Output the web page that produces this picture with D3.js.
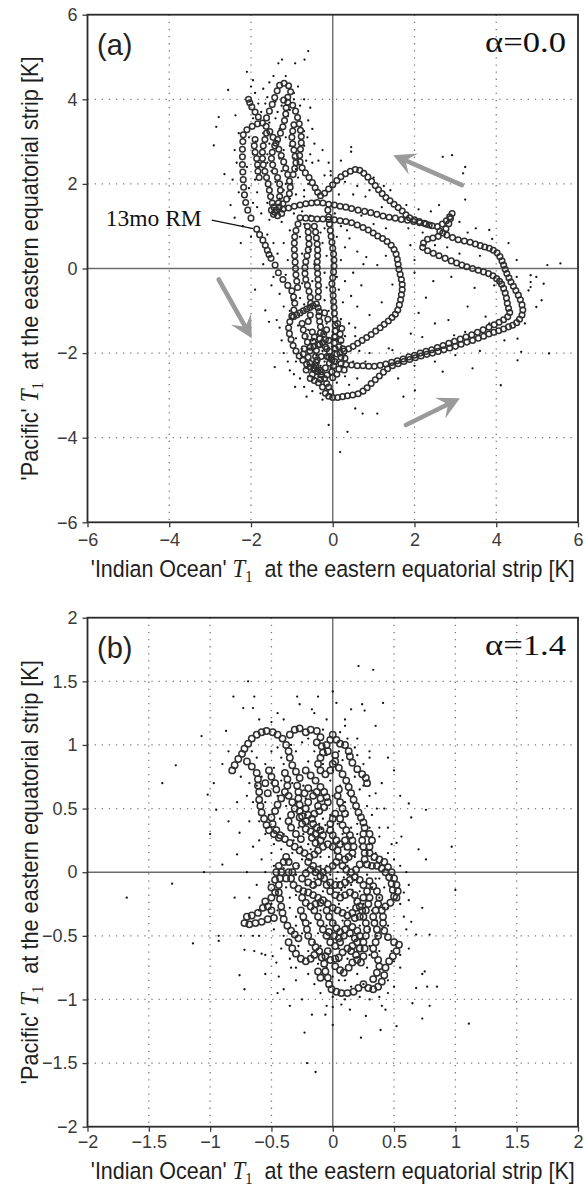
<!DOCTYPE html>
<html>
<head>
<meta charset="utf-8">
<script src="https://cdn.jsdelivr.net/npm/d3@7"></script>
<style>
  html, body { margin: 0; padding: 0; background: #fff; }
  svg { display: block; }
</style>
</head>
<body>
<svg id="chart" width="584" height="1191"></svg>
<script>
// ---------------------------------------------------------------
// Phase-space scatter of eastern equatorial T1 anomalies:
// monthly values (small dots) and 13-month running mean (open circles)
// ---------------------------------------------------------------

// axis tick values
const ticksA = [-6, -4, -2, 0, 2, 4, 6];
const ticksB = [-2, -1.5, -1, -0.5, 0, 0.5, 1, 1.5, 2];

// panel (a): 13-month running mean, [Indian Ocean T1, Pacific T1]
const runningMeanA = [
  [-1.86,0.93],[-2.0,1.19],[-2.08,1.38],[-2.13,1.56],[-2.16,1.74],[-2.18,1.92],[-2.19,2.1],[-2.2,2.28],[-2.21,2.46],[-2.21,2.64],[-2.21,2.82],[-2.2,3.0],[-2.19,3.16],[-2.1,3.28],[-1.97,3.36],[-1.84,3.42],[-1.72,3.44],
  [-1.62,3.56],[-1.55,3.72],[-1.48,3.88],[-1.42,4.04],[-1.36,4.2],[-1.3,4.33],[-1.19,4.38],[-1.08,4.32],[-1.03,4.18],[-1.1,4.05],[-1.2,3.98],[-1.1,3.93],[-0.98,3.86],[-0.91,3.72],[-0.86,3.57],[-0.82,3.42],[-0.79,3.27],[-0.77,3.12],[-0.77,2.97],[-0.79,2.82],[-0.81,2.67],[-0.8,2.52],[-0.75,2.38],[-0.67,2.26],[-0.58,2.15],[-0.5,2.03],[-0.43,1.91],[-0.37,1.8],[-0.3,1.72],
  [-2.06,4.0],[-2.03,3.92],[-1.98,3.82],[-1.9,3.7],[-1.82,3.58],[-1.63,3.36],[-1.54,3.24],[-1.46,3.1],[-1.39,2.96],[-1.32,2.82],[-1.26,2.67],[-1.2,2.52],[-1.15,2.37],[-1.1,2.22],[-1.06,2.07],[-1.04,1.92],[-1.06,1.77],[-1.13,1.64],[-1.22,1.53],[-1.31,1.45],[-1.38,1.38],[-1.42,1.33],
  [-1.62,3.2],[-1.66,3.05],[-1.7,2.9],[-1.72,2.75],[-1.72,2.6],[-1.7,2.45],[-1.66,2.3],[-1.62,2.15],[-1.58,2.0],[-1.55,1.85],[-1.52,1.7],[-1.48,1.55],[-1.44,1.45],
  [-1.33,1.55],[-1.3,1.7],[-1.28,1.85],[-1.3,2.0],[-1.35,2.15],[-1.42,2.3],[-1.47,2.45],[-1.5,2.6],[-1.48,2.75],[-1.42,2.9],[-1.35,3.05],[-1.28,3.2],[-1.22,3.35],[-1.18,3.5],[-1.15,3.65],[-1.14,3.8],
  [-0.95,3.4],[-0.98,3.25],[-1.0,3.1],[-0.98,2.95],[-0.95,2.8],[-0.92,2.65],[-0.9,2.5],[-0.93,2.36],[-0.97,2.22],
  [-1.9,3.05],[-1.92,2.9],[-1.9,2.75],[-1.86,2.6],[-1.84,2.45],[-1.83,2.3],[-1.8,2.15],[-1.35,1.25],[-1.25,1.3],[-1.45,1.28],[-1.5,1.38],
  [-1.22,1.4],[-1.08,1.43],[-0.94,1.47],[-0.8,1.5],[-0.66,1.53],[-0.52,1.55],[-0.38,1.56],[-0.24,1.55],[-0.1,1.52],[0.04,1.5],[0.18,1.47],[0.32,1.45],[0.46,1.42],[0.62,1.38],[0.78,1.35],[0.93,1.32],[1.08,1.28],[1.23,1.24],[1.38,1.21],[1.53,1.19],[1.68,1.16],[1.83,1.14],[1.98,1.11],[2.13,1.08],[2.28,1.05],[2.43,1.01],
  [2.56,0.99],[2.68,1.05],[2.78,1.13],[2.86,1.22],[2.92,1.3],[2.88,1.18],[2.84,1.06],[2.77,0.94],[2.69,0.84],[2.58,0.76],[2.45,0.72],[2.32,0.69],[2.22,0.6],[2.2,0.5],
  [2.32,0.42],[2.46,0.36],[2.6,0.3],[2.75,0.24],[2.9,0.18],[3.03,0.13],[3.16,0.08],[3.28,0.04],[3.42,0.0],[3.56,-0.04],[3.69,-0.08],[3.81,-0.12],[3.92,-0.17],[4.01,-0.24],[4.08,-0.3],[4.13,-0.37],[4.18,-0.47],[4.22,-0.58],[4.25,-0.7],[4.27,-0.82],[4.3,-0.94],[4.33,-1.04],
  [4.28,-1.14],[4.18,-1.21],[4.07,-1.27],[3.95,-1.33],[3.82,-1.39],[3.68,-1.45],[3.54,-1.51],[3.4,-1.57],[3.26,-1.62],[3.12,-1.67],[2.98,-1.72],[2.84,-1.77],[2.7,-1.82],[2.56,-1.87],[2.42,-1.92],[2.28,-1.96],[2.14,-2.0],[2.0,-2.05],[1.86,-2.09],[1.72,-2.14],[1.58,-2.18],[1.44,-2.22],[1.3,-2.26],[1.16,-2.29],[1.02,-2.31],[0.88,-2.31],[0.74,-2.3],[0.6,-2.3],[0.46,-2.28],[0.32,-2.27],[0.2,-2.25],
  [-0.2,1.78],[-0.1,1.88],[0.0,1.98],[0.1,2.08],[0.2,2.17],[0.31,2.24],[0.43,2.3],[0.55,2.34],[0.66,2.32],[0.76,2.25],[0.86,2.16],[0.95,2.06],[1.04,1.96],[1.12,1.86],[1.21,1.77],[1.3,1.68],[1.4,1.6],[1.5,1.52],[1.6,1.44],[1.7,1.36],[1.79,1.27],[1.88,1.2],[2.0,1.15],[2.12,1.11],[2.24,1.07],[2.36,1.03],
  [2.62,0.88],[2.79,0.79],[2.93,0.73],[3.07,0.68],[3.22,0.65],[3.36,0.62],[3.49,0.58],[3.61,0.54],[3.72,0.51],[3.83,0.48],[3.93,0.43],[4.02,0.37],[4.09,0.28],[4.14,0.18],[4.18,0.08],[4.22,-0.02],[4.26,-0.12],[4.31,-0.22],[4.36,-0.32],[4.42,-0.42],[4.48,-0.52],[4.54,-0.63],[4.59,-0.74],[4.63,-0.86],[4.65,-0.98],[4.63,-1.1],[4.57,-1.2],[4.5,-1.28],[4.4,-1.34],[4.3,-1.38],
  [4.18,-1.43],[4.06,-1.47],[3.94,-1.51],[3.82,-1.55],[3.69,-1.6],[3.56,-1.65],[3.42,-1.7],[3.28,-1.74],[3.14,-1.79],[3.0,-1.84],[2.86,-1.88],[2.72,-1.92],[2.58,-1.96],[2.44,-2.0],[2.3,-2.03],[2.16,-2.07],[2.02,-2.11],[1.88,-2.15],[1.74,-2.2],[1.6,-2.25],[1.46,-2.3],[1.34,-2.37],[1.24,-2.45],[1.14,-2.54],[1.04,-2.63],[0.94,-2.72],[0.84,-2.82],[0.74,-2.9],[0.62,-2.96],[0.49,-2.99],[0.36,-3.01],[0.24,-3.03],[0.12,-3.05],[0.0,-3.05],[-0.1,-3.02],[-0.18,-2.95],
  [-0.8,1.2],[-0.66,1.19],[-0.52,1.18],[-0.38,1.17],[-0.24,1.17],[-0.1,1.16],[0.04,1.15],[0.18,1.13],[0.32,1.11],[0.46,1.08],[0.6,1.03],[0.74,0.97],[0.87,0.91],[0.99,0.84],[1.1,0.77],[1.22,0.71],[1.33,0.64],[1.43,0.55],[1.5,0.45],[1.55,0.34],[1.58,0.22],[1.6,0.1],[1.62,-0.02],[1.65,-0.14],[1.68,-0.26],[1.7,-0.38],[1.7,-0.5],[1.68,-0.62],[1.66,-0.74],[1.63,-0.86],[1.59,-0.98],[1.53,-1.08],[1.45,-1.16],[1.36,-1.24],[1.26,-1.32],[1.16,-1.4],[1.05,-1.48],[0.94,-1.56],[0.83,-1.63],[0.72,-1.7],[0.61,-1.77],[0.5,-1.84],[0.39,-1.9],[0.28,-1.95],[0.18,-2.0],
  [-1.79,0.8],[-1.71,0.67],[-1.65,0.55],[-1.6,0.43],[-1.56,0.33],[-1.51,0.24],[-1.41,0.08],[-1.33,-0.1],[-1.22,-0.26],[-1.1,-0.4],[-1.0,-0.53],[-0.96,-0.67],[-0.93,-0.82],[-0.95,-0.98],[-1.0,-1.12],[-1.05,-1.26],[-1.08,-1.4],[-1.06,-1.54],[-1.02,-1.68],[-0.97,-1.82],[-0.9,-1.95],[-0.82,-2.07],[-0.73,-2.17],[-0.64,-2.26],[-0.55,-2.33],[-0.46,-2.39],[-0.37,-2.43],[-0.28,-2.44],
  [-0.96,-1.14],[-0.88,-1.1],[-0.8,-1.05],[-0.72,-1.0],[-0.64,-0.96],[-0.56,-0.92],[-0.48,-0.88],[-0.4,-0.84],[-0.36,-0.93],[-0.33,-1.02],
  [-0.45,1.0],[-0.42,0.86],[-0.4,0.72],[-0.38,0.58],[-0.37,0.44],[-0.37,0.3],[-0.38,0.16],[-0.38,0.02],[-0.37,-0.12],[-0.36,-0.26],[-0.35,-0.4],[-0.35,-0.54],[-0.36,-0.68],[-0.34,-1.12],[-0.32,-1.25],[-0.3,-1.38],[-0.3,-1.52],[-0.32,-1.66],[-0.36,-1.8],[-0.4,-1.94],[-0.42,-2.08],[-0.4,-2.22],
  [-0.85,1.05],[-0.9,0.9],[-0.93,0.75],[-0.94,0.6],[-0.94,0.45],[-0.93,0.3],[-0.92,0.15],[-0.91,0.0],[-0.9,-0.15],[-0.88,-0.3],[-0.86,-0.45],
  [-0.62,1.0],[-0.6,0.86],[-0.59,0.72],[-0.58,0.58],[-0.6,0.44],[-0.63,0.3],[-0.66,0.16],[-0.68,0.02],[-0.68,-0.12],[-0.66,-0.26],[-0.62,-0.4],[-0.58,-0.54],[-0.55,-0.68],[-0.54,-0.82],
  [-0.12,1.38],[-0.1,1.22],[-0.08,1.05],[-0.06,0.9],[-0.04,0.76],[-0.02,0.62],[0.0,0.48],[0.02,0.34],[0.03,0.2],[0.03,0.06],[0.02,-0.08],[0.0,-0.22],[-0.02,-0.36],[0.0,-0.5],[0.01,-0.64],[0.02,-0.78],[0.03,-0.92],[0.04,-1.06],[0.05,-1.2],[0.06,-1.34],[0.06,-1.48],[0.05,-1.62],[0.04,-1.76],[0.06,-1.9],[0.1,-2.02],
  [-0.6,-2.1],[-0.56,-1.95],[-0.46,-1.84],[-0.32,-1.8],[-0.18,-1.85],[-0.08,-1.96],[-0.04,-2.1],[-0.08,-2.24],[-0.18,-2.35],[-0.32,-2.4],[-0.46,-2.35],[-0.56,-2.24],
  [-0.42,-2.3],[-0.38,-2.16],[-0.28,-2.08],[-0.14,-2.08],[-0.02,-2.16],[0.02,-2.3],[-0.02,-2.44],[-0.14,-2.52],[-0.28,-2.52],[-0.38,-2.44],
  [-0.15,-1.9],[-0.1,-1.7],[0.05,-1.6],[0.2,-1.7],[0.25,-1.9],[0.2,-2.1],[0.05,-2.2],[-0.1,-2.1],
  [-0.75,-1.3],[-0.72,-1.45],[-0.68,-1.6],[-0.62,-1.74],[-0.55,-1.86],
  [-0.2,-2.6],[-0.15,-2.72],[-0.25,-2.8],[-0.35,-2.7],[-0.05,-2.92],[-0.1,-2.8],[0.15,-2.38],[0.1,-2.5],[0.0,-2.58],
  [-0.5,-1.5],[-0.45,-1.62],[-0.48,-1.72],[-0.22,-1.55],[-0.18,-1.68],[-0.25,-1.75],[-0.7,-1.9],[-0.72,-2.02],[-0.5,-2.5],[-0.55,-2.6],[-0.45,-2.65],[0.18,-1.55],[0.22,-1.42],[0.12,-1.3],[-0.15,-1.45],[-0.12,-1.2],[-0.2,-1.05],[-0.55,-1.1],[-0.6,-1.25],[0.15,-1.85],[0.3,-2.12],[0.28,-2.4],[-0.65,-2.4],[-0.3,-2.62]
];

// panel (a): monthly values
const monthlyA = [
  [-2.56,4.22],[-2.1,4.65],[-1.33,4.85],[-1.24,4.94],[-0.92,4.85],[-0.69,4.94],[-0.6,5.14],[-2.79,3.58],[-2.85,3.35],[-2.91,2.91],[-2.65,2.23],[-2.38,3.62],[-2.0,4.3],[-1.95,4.45],[-1.9,4.15],[-1.7,4.25],[-1.6,4.05],[-1.55,4.4],[-0.85,4.3],[-0.95,4.15],[-0.7,4.0],[-0.55,3.8],[-0.6,3.5],[-0.5,3.3],[-0.62,3.1],[-0.45,2.95],[-0.55,2.7],[-0.35,2.55],[-0.25,2.8],[-0.1,2.5],[-0.2,2.2],[-0.05,2.3],[-1.82,3.9],[-1.75,3.7],[-1.95,3.55],[-2.3,3.2],[-2.4,2.8],[-2.35,2.5],[-2.45,2.1],[-2.3,1.8],[-2.5,1.5],[-2.4,1.2],[-2.2,1.0],[-2.0,0.75],[-2.25,0.6],[-1.95,1.55],[-1.85,1.8],[-1.9,2.1],[-1.82,2.4],[-1.95,2.7],[-1.88,3.0],[-2.05,3.1],[-1.35,3.7],[-1.25,3.85],[-1.55,3.45],[-1.3,3.3],[-1.15,3.1],[-1.05,2.9],[-1.2,2.8],[-0.95,2.6],[-0.9,2.35],[-1.25,2.3],[-1.4,2.05],[-1.2,1.85],[-0.9,1.75],[-0.7,1.85],[-0.6,2.0],[-1.6,1.55],[-1.75,1.3],[-1.55,1.15],[-1.25,1.1],[-0.95,1.3],[-0.75,1.35],[-1.05,1.65],[-1.5,2.3],[-1.6,2.7],[-1.55,2.95],[-1.4,3.55],[-1.1,3.6],[-0.95,4.0],[-1.7,3.2],[-2.1,2.4],[-2.05,1.9],[-1.45,4.55],[-1.15,4.55],[-0.8,3.85],[-0.7,3.25],[-0.5,2.5],[-0.85,2.15],[-1.0,2.0],
  [-1.65,3.9],[-1.4,3.95],[-1.05,3.75],[-1.3,2.6],[-1.6,2.5],[-1.15,2.0],[-0.65,2.55],[-0.7,2.9],[-1.85,1.45],[-1.3,1.65],[-0.45,1.6],[-0.7,1.7],
  [0.45,2.87],[0.45,2.76],[0.2,2.55],[-0.05,2.2],[0.3,2.05],[0.6,1.95],[0.9,1.85],[1.41,1.85],[1.25,1.95],[1.0,2.15],[0.8,1.7],[0.5,1.75],[0.15,1.75],[2.69,2.64],[2.92,2.68],[3.24,2.4],[3.19,2.25],[3.24,1.63],[2.4,1.35],[2.1,1.4],[1.8,1.5],[1.2,1.45],[0.7,1.25],[2.6,1.5],[3.1,1.1],[3.5,0.95],[3.83,0.91],[3.3,0.85],[2.2,0.85],[1.85,0.95],[1.3,0.95],[1.0,1.05],[0.35,0.9],[0.41,0.71],[0.82,0.27],[1.09,0.08],[1.3,0.3],[1.9,0.55],[2.0,0.2],[2.5,0.55],[2.8,0.5],[3.1,0.35],[3.6,0.3],[3.9,0.7],[4.3,0.6],[4.5,0.2],[5.25,0.08],[5.57,0.12],[4.84,-0.16],[4.98,-0.2],[5.16,-0.36],[4.84,-0.44],[4.79,-0.52],[4.84,-0.32],[5.11,-0.75],[4.98,-0.91],[4.7,-1.3],[4.5,-0.2],[3.95,-0.4],[3.47,-0.46],[2.46,-0.3],[2.28,-0.69],[1.46,-0.38],[2.0,-0.1],[2.9,-0.2],[3.3,-0.9],[3.74,-1.14],[3.83,-1.3],[3.24,-1.5],[2.97,-1.58],[2.83,-1.22],[2.19,-1.62],[1.91,-1.54],[1.37,-1.89],[1.46,-1.93],[2.5,-1.3],[2.1,-1.05],[1.2,-0.8],[0.9,-1.1],[0.6,-0.9],[0.55,-1.4],[0.9,-2.0],[1.6,-2.6],[2.0,-2.3],[2.5,-2.2],[3.0,-2.05],[3.6,-1.95],[4.2,-1.7],[4.52,-1.66],[4.61,-1.97],[4.52,-2.17],[5.29,-2.01],[4.11,-2.76],[3.42,-2.36],[2.69,-2.44],[2.01,-2.88],[1.73,-3.03],[1.09,-3.43],[0.73,-3.43],[0.55,-3.31],[0.36,-3.86],[0.18,-4.34],[-0.1,-3.7],[-0.64,-3.03],[-0.92,-2.8],[-1.05,-2.41],[-1.42,-2.33],[-1.65,-0.99],[-1.56,-1.26],[-1.37,-1.22],
  [-1.3,-0.6],[-1.5,-0.4],[-1.2,-0.9],[-1.25,-1.7],[-1.2,-2.0],[-1.1,-2.2],[-0.95,-2.5],[-0.8,-2.6],[-0.7,-2.8],[-0.5,-2.9],[-0.45,-2.6],[-0.3,-2.95],[0.1,-2.7],[0.3,-2.55],[0.4,-2.75],[0.6,-2.6],[0.5,-2.2],[0.3,-2.05],[0.55,-1.6],[0.4,-1.3],[0.3,-1.6],[0.2,-1.2],[0.25,-0.8],[0.15,-0.5],[0.3,-0.3],[0.5,-0.1],[0.2,0.2],[0.3,0.5],[0.1,0.75],[0.2,1.0],[-0.2,0.95],[-0.25,0.6],[-0.15,0.3],[-0.2,-0.1],[-0.15,-0.45],[-0.2,-0.75],[-0.1,-1.0],[-0.15,-1.3],[-0.2,-1.55],[-0.1,-1.65],[0.15,-1.45],[0.2,-1.75],[0.1,-2.2],[-0.05,-2.35],[-0.15,-2.05],[-0.25,-1.95],[-0.45,-2.0],[-0.5,-1.7],[-0.6,-1.45],[-0.55,-1.2],[-0.7,-0.85],[-0.8,-0.7],[-0.75,-0.35],[-0.5,-0.3],[-0.45,0.1],[-0.55,0.45],[-0.75,0.35],[-0.8,0.75],[-0.7,1.05],[-1.05,0.9],[-1.2,0.6],[-1.35,0.35],[-1.1,0.2],[-1.15,-0.15],[-1.0,-0.75],[-0.85,-1.35],[-0.9,-1.65],[-0.75,-1.9],[-0.65,-2.35],[-0.35,-2.55],[-0.2,-2.2],[0.0,-1.5],[0.1,-0.2],[-0.3,0.85],[0.05,1.3],[-0.55,1.25],[-1.6,0.8],[-1.45,0.6],[-1.7,0.1],[-1.45,-0.2],[-1.9,-0.5],[-1.05,-1.0],[0.45,-0.65],[0.7,-0.4],[0.75,0.1],[0.6,0.4],[0.65,-1.95],[0.8,-2.2],[-0.6,-2.55],[-0.9,-2.2],[-1.3,-1.4],[-0.25,-3.1],[0.7,-2.95],
  [-0.3,-2.3],[-0.4,-2.05],[0.05,-1.95],[-0.1,-2.45],[-0.55,-2.15],[0.2,-2.3],[-0.25,-1.65],[-0.02,-1.85],[0.12,-1.7],[-0.38,-1.55],[-0.62,-1.6]
];

// panel (b): 13-month running mean
const runningMeanB = [
  [-0.82,0.8],[-0.8,0.84],[-0.77,0.89],[-0.74,0.93],[-0.72,0.97],[-0.69,1.01],[-0.66,1.05],[-0.62,1.08],[-0.58,1.1],[-0.54,1.11],[-0.49,1.1],[-0.45,1.08],[-0.41,1.05],[-0.38,1.0],[-0.36,0.95],[-0.35,0.9],[-0.33,0.84],[-0.3,0.79],[-0.27,0.74],
  [-0.7,0.87],[-0.66,0.83],[-0.62,0.78],[-0.61,0.73],[-0.61,0.68],[-0.6,0.63],[-0.6,0.57],[-0.59,0.52],[-0.58,0.47],[-0.56,0.42],[-0.54,0.37],[-0.52,0.33],[-0.48,0.3],[-0.44,0.27],
  [-0.35,1.08],[-0.31,1.12],[-0.27,1.13],[-0.22,1.1],[-0.18,1.12],[-0.13,1.11],[-0.1,1.06],[-0.13,1.02],[-0.09,0.99],[-0.05,1.0],[-0.02,1.04],[0.0,1.08],[0.03,1.04],[0.06,1.01],[0.1,1.0],[0.13,0.95],[0.14,0.91],[0.16,0.86],[0.2,0.81],[0.24,0.77],[0.27,0.74],[0.28,0.7],
  [-0.39,0.78],[-0.37,0.73],[-0.37,0.68],[-0.39,0.63],[-0.42,0.58],[-0.45,0.53],[-0.47,0.48],[-0.5,0.43],[-0.49,0.38],[-0.46,0.33],[-0.43,0.29],[-0.39,0.26],[-0.35,0.23],[-0.31,0.2],[-0.27,0.17],[-0.23,0.15],[-0.19,0.12],
  [-0.29,0.68],[-0.28,0.63],[-0.28,0.58],[-0.27,0.53],[-0.27,0.48],[-0.27,0.43],[-0.25,0.38],[-0.22,0.34],
  [-0.22,0.8],[-0.18,0.76],[-0.14,0.72],[-0.1,0.67],[-0.07,0.63],[-0.05,0.59],[-0.04,0.55],[-0.07,0.51],[-0.11,0.48],[-0.15,0.46],[-0.17,0.42],[-0.16,0.38],[-0.13,0.35],[-0.1,0.33],[-0.08,0.29],[-0.1,0.25],[-0.14,0.23],[-0.17,0.27],[-0.18,0.32],[-0.14,0.3],
  [0.02,0.87],[0.05,0.82],[0.08,0.77],[0.11,0.72],[0.13,0.67],[0.15,0.62],[0.17,0.57],[0.19,0.52],[0.21,0.47],[0.23,0.43],[0.25,0.39],[0.26,0.35],[0.25,0.3],[0.24,0.25],[0.25,0.2],[0.26,0.15],[0.26,0.1],[0.28,0.06],[0.32,0.05],[0.36,0.05],[0.4,0.03],[0.43,0.0],[0.46,-0.04],[0.48,-0.09],[0.49,-0.14],[0.5,-0.19],[0.47,-0.24],[0.43,-0.27],[0.4,-0.3],[0.41,-0.35],[0.41,-0.4],[0.42,-0.46],[0.45,-0.51],[0.5,-0.55],[0.54,-0.57],[0.52,-0.62],[0.49,-0.66],[0.46,-0.7],[0.43,-0.75],[0.42,-0.81],[0.4,-0.86],[0.37,-0.9],[0.33,-0.92],[0.29,-0.91],
  [0.25,-0.88],[0.21,-0.91],[0.17,-0.94],[0.12,-0.95],[0.07,-0.95],[0.03,-0.94],[-0.01,-0.92],[-0.03,-0.88],[-0.04,-0.83],[-0.06,-0.78],[-0.07,-0.72],[-0.09,-0.67],[-0.11,-0.62],[-0.14,-0.59],[-0.17,-0.55],[-0.2,-0.5],[-0.21,-0.45],[-0.22,-0.4],[-0.24,-0.35],[-0.26,-0.3],
  [0.02,-0.74],[0.06,-0.77],[0.09,-0.79],[0.13,-0.75],[0.16,-0.71],[0.2,-0.69],[0.23,-0.71],[0.25,-0.66],[0.26,-0.6],[0.25,-0.55],[0.27,-0.5],[0.28,-0.45],[0.27,-0.4],[0.25,-0.35],[0.27,-0.3],[0.29,-0.25],[0.3,-0.2],[0.28,-0.15],[0.25,-0.1],[0.22,-0.06],[0.18,-0.04],[0.14,-0.06],[0.1,-0.08],[0.06,-0.1],[0.02,-0.1],[-0.02,-0.08],
  [-0.55,-0.23],[-0.57,-0.28],[-0.61,-0.32],[-0.66,-0.34],[-0.7,-0.35],[-0.72,-0.4],[-0.68,-0.41],[-0.63,-0.4],[-0.58,-0.39],[-0.53,-0.37],[-0.48,-0.36],
  [-0.42,0.0],[-0.43,-0.05],[-0.44,-0.1],[-0.44,-0.16],[-0.43,-0.21],[-0.42,-0.27],[-0.41,-0.32],[-0.4,-0.37],[-0.37,-0.42],[-0.34,-0.46],[-0.31,-0.49],[-0.28,-0.52],
  [-0.2,0.08],[-0.16,0.05],[-0.12,0.02],[-0.08,0.0],[-0.04,0.02],[0.0,0.05],[0.03,0.08],[0.05,0.12],[0.04,0.17],[0.0,0.2],[-0.04,0.22],[-0.08,0.2],[-0.12,0.17],[-0.15,0.14],[-0.3,0.05],[-0.33,0.0],[-0.34,-0.05],[-0.32,-0.1],[-0.28,-0.13],[-0.24,-0.15],[-0.2,-0.16],[-0.16,-0.18],[-0.12,-0.2],[-0.08,-0.22],[-0.04,-0.25],[0.0,-0.28],[0.04,-0.3],[0.08,-0.32],[0.12,-0.34],[0.16,-0.32],[0.19,-0.28],[0.2,-0.23],[0.18,-0.18],[0.14,-0.16],[0.1,-0.18],[0.06,-0.2],[0.02,-0.18],[-0.02,-0.15],[-0.05,-0.1],[-0.07,-0.05],
  [-0.15,-0.3],[-0.12,-0.35],[-0.1,-0.4],[-0.08,-0.45],[-0.05,-0.5],[-0.02,-0.55],[0.02,-0.58],[0.06,-0.55],[0.09,-0.5],[0.1,-0.45],[0.12,-0.4],[0.16,-0.43],[0.2,-0.46],[0.22,-0.5],[0.2,-0.55],[0.16,-0.58],[0.12,-0.6],[0.08,-0.63],[0.05,-0.67],
  [-0.38,0.12],[-0.36,0.08],[-0.26,0.26],[-0.3,0.3],[-0.34,0.35],[-0.36,0.4],[-0.34,0.45],[-0.31,0.5],[-0.33,0.55],[-0.36,0.6],
  [0.06,0.42],[0.08,0.37],[0.11,0.33],[0.14,0.29],[0.16,0.25],[0.17,0.2],[0.16,0.15],[0.13,0.12],[0.1,0.1],[0.08,0.05],[0.11,0.02],[0.15,0.0],[0.19,0.02],[0.22,0.06],
  [-0.36,-0.55],[-0.33,-0.6],[-0.3,-0.64],[-0.26,-0.68],[-0.22,-0.7],[-0.18,-0.68],[-0.15,-0.65],
  [-0.52,0.8],[-0.5,0.75],[-0.47,0.7],[-0.46,0.65],[-0.53,0.62],[-0.55,0.7],
  [0.33,-0.84],[0.36,-0.79],[0.38,-0.74],[0.37,-0.69],[0.34,-0.65],[0.33,-0.6],[0.35,-0.55],[0.37,-0.5],[0.36,-0.45],[0.34,-0.4],[0.33,-0.35],[0.35,-0.3],[0.37,-0.25],[0.38,-0.2],[0.36,-0.15],[0.33,-0.11],[0.3,-0.07],
  [-0.25,-0.05],[-0.22,-0.01],[-0.18,0.02],[-0.14,0.0],[-0.1,-0.03],[-0.12,-0.08],[-0.16,-0.1],[-0.2,-0.08],[-0.25,-0.2],[-0.22,-0.24],[-0.18,-0.27],[-0.14,-0.25],[-0.1,-0.24],
  [-0.05,-0.3],[-0.03,-0.35],[0.0,-0.4],[0.03,-0.44],[0.06,-0.47],[0.05,-0.52],[0.01,-0.5],[-0.03,-0.47],[-0.04,-0.62],[-0.06,-0.66],[-0.02,-0.69],[0.02,-0.68],
  [0.3,0.3],[0.32,0.25],[0.3,0.2],[0.3,0.15],[0.34,0.12],[0.38,0.1],[0.42,0.08],[0.45,0.04],[0.48,0.0],[0.5,-0.05],[0.52,-0.1],[0.53,-0.15],[0.52,-0.2],
  [-0.2,0.55],[-0.22,0.5],[-0.2,0.45],[-0.22,0.4],[-0.25,0.44],[-0.23,0.62],[-0.2,0.66],[-0.16,0.6],[-0.13,0.63],[-0.1,0.58],[-0.12,0.52],
  [0.05,0.65],[0.04,0.6],[0.06,0.55],[0.08,0.5],[0.1,0.46],[0.02,0.46],[0.0,0.42],[-0.02,0.38],[-0.02,0.33],[0.0,0.29],[0.03,0.25],[0.06,0.22],[0.1,0.25],[0.12,0.2],
  [-0.08,0.94],[-0.1,0.9],[-0.12,0.85],[-0.1,0.8],[-0.06,0.77],[-0.02,0.8],[0.0,0.85],[0.02,0.92],[-0.04,0.95],
  [-0.5,-0.3],[-0.53,-0.27],[-0.5,-0.2],[-0.47,-0.16],[-0.5,-0.12],[-0.47,-0.06],[-0.46,0.0],[-0.44,0.05],[-0.4,0.08],[-0.36,0.0],[-0.38,-0.05],
  [-0.12,-0.78],[-0.1,-0.83],[0.15,-0.62],[0.19,-0.65],[0.22,-0.6],[0.18,-0.52],[0.14,-0.48],[0.18,-0.36],[0.22,-0.35],[0.24,-0.3],[0.22,-0.27],[0.25,-0.2]
];

// panel (b): monthly values
const monthlyB = [
  [0.21,1.62],[0.33,1.59],[0.0,1.42],[0.03,1.33],[0.15,1.28],[0.24,1.32],[0.26,1.27],[0.41,1.33],[0.35,1.15],[-0.81,1.38],[-0.64,1.38],[-0.73,1.29],[-0.65,1.29],[-0.69,1.5],[-0.29,1.38],[-0.12,1.38],[-0.27,1.32],[-0.17,1.28],[-1.07,1.07],[-0.87,1.11],[-1.28,0.84],[-1.39,0.7],[-1.02,0.61],[-0.97,0.7],[-0.95,0.49],[-0.76,0.31],[-0.78,0.14],[-0.9,0.06],[-1.05,0.0],[-1.31,-0.09],[-1.68,-0.2],[-1.14,-0.56],[-0.93,-0.5],[-0.93,-0.54],[-0.72,-0.61],[-0.64,-0.62],[-0.58,-0.64],[-0.76,-0.81],[-0.72,-0.92],[-0.4,-0.92],[-0.49,-0.66],[-0.46,-0.71],[-0.44,-0.82],[-0.34,-0.75],[-0.17,-1.12],[-0.23,-1.26],[-0.21,-1.5],[-0.14,-1.57],[-0.06,-1.12],[0.0,-1.2],[0.0,-1.06],[0.07,-1.04],[0.14,-1.08],[0.23,-1.3],[0.27,-1.13],[0.39,-1.24],[0.43,-1.08],[0.52,-1.21],[0.65,-1.03],[0.73,-0.8],[0.75,-0.78],[0.68,-0.91],[0.77,-0.9],[0.85,-0.9],[0.79,-1.05],[0.73,-1.15],[1.11,-1.19],[0.73,-0.28],[0.64,-0.39],[0.68,-0.49],[0.79,-0.49],[0.62,-0.1],[0.58,-0.16],[0.62,-0.22],[1.0,-0.14],[0.76,0.49],[0.64,0.43],[0.62,0.54],[0.7,0.18],[0.76,0.1],[0.97,0.2],[0.52,0.23],[0.56,0.28],
  [0.1,1.2],[0.2,1.05],[0.3,0.95],[0.45,0.9],[0.5,0.8],[0.4,0.7],[0.55,0.6],[-0.45,1.25],[-0.5,1.18],[-0.6,1.2],[-0.85,0.95],[-0.9,0.85],[-0.78,0.55],[-0.7,0.6],[-0.85,0.4],[-1.0,0.3],[-0.65,0.2],[-0.58,0.1],[-0.7,0.0],[-0.62,-0.1],[-0.8,-0.2],[-0.75,-0.5],[-0.6,-0.5],[-0.55,-0.8],[-0.3,-0.85],[-0.25,-1.0],[-0.1,-0.95],[0.05,-0.85],[0.15,-0.9],[0.3,-1.0],[0.45,-0.95],[0.55,-0.75],[0.62,-0.6],[0.58,-0.35],[0.55,0.05],[0.45,0.15],[0.38,0.35],[0.42,0.5],[0.35,0.62],[0.3,0.9],[0.1,1.15],[-0.05,1.2],[-0.15,1.25],[-0.4,1.2],
  [-0.5,0.95],[-0.42,0.9],[-0.3,0.95],[-0.25,1.02],[-0.15,0.95],[-0.05,0.92],[0.05,0.95],[0.12,1.05],[0.2,0.92],[-0.55,0.85],[-0.48,0.82],[-0.4,0.85],[-0.2,0.87],[-0.08,0.85],[0.0,0.8],[0.08,0.88],[0.18,0.75],[0.25,0.85],[-0.58,0.75],[-0.5,0.7],[-0.42,0.72],[-0.33,0.7],[-0.24,0.68],[-0.17,0.64],[-0.02,0.72],[0.06,0.68],[0.12,0.62],[0.22,0.65],[0.3,0.6],[-0.65,0.55],[-0.55,0.55],[-0.45,0.6],[-0.38,0.52],[-0.3,0.55],[-0.22,0.58],[-0.12,0.55],[0.0,0.6],[0.05,0.52],[0.1,0.55],[0.18,0.5],[0.28,0.52],[0.32,0.45],[-0.6,0.4],[-0.52,0.45],[-0.43,0.42],[-0.35,0.38],[-0.22,0.45],[-0.08,0.42],[-0.02,0.45],[0.04,0.38],[0.12,0.45],[0.2,0.38],[0.3,0.35],[0.38,0.28],[-0.55,0.3],[-0.48,0.22],[-0.4,0.3],[-0.32,0.25],[-0.24,0.3],[-0.2,0.22],[-0.12,0.28],[-0.05,0.32],[0.02,0.28],[0.08,0.22],[0.12,0.28],[0.2,0.3],[0.3,0.22],[0.35,0.15],[-0.5,0.15],[-0.42,0.18],[-0.33,0.15],[-0.25,0.1],[-0.18,0.18],[-0.1,0.12],[-0.03,0.12],[0.02,0.15],[0.1,0.18],[0.18,0.12],[0.25,0.05],[0.32,0.1],[-0.48,0.05],[-0.4,0.03],[-0.3,-0.02],[-0.22,0.02],[-0.15,-0.05],[-0.1,0.05],[-0.02,-0.02],[0.04,0.0],[0.12,-0.02],[0.2,-0.08],[0.28,-0.02],[0.35,-0.05],[0.42,-0.12],[-0.52,-0.08],[-0.45,-0.15],[-0.38,-0.12],[-0.3,-0.18],[-0.22,-0.1],[-0.15,-0.12],[-0.08,-0.15],[0.0,-0.12],[0.05,-0.08],[0.1,-0.12],[0.15,-0.1],[0.22,-0.15],[0.32,-0.12],[0.38,-0.2],[0.45,-0.28],[-0.5,-0.25],[-0.45,-0.3],[-0.35,-0.28],[-0.3,-0.35],[-0.2,-0.25],[-0.1,-0.3],[-0.05,-0.22],[0.05,-0.25],[0.12,-0.28],[0.18,-0.22],[0.25,-0.25],[0.32,-0.3],[0.36,-0.38],[-0.48,-0.45],[-0.4,-0.5],[-0.3,-0.42],[-0.25,-0.48],[-0.18,-0.4],[-0.12,-0.48],[-0.05,-0.42],[0.02,-0.4],[0.08,-0.38],[0.15,-0.5],[0.22,-0.42],[0.3,-0.45],[0.36,-0.5],[0.45,-0.42],[-0.42,-0.6],[-0.35,-0.68],[-0.28,-0.58],[-0.2,-0.62],[-0.1,-0.58],[-0.02,-0.62],[0.05,-0.6],[0.12,-0.68],[0.2,-0.62],[0.3,-0.58],[0.38,-0.62],[0.48,-0.62],[-0.3,-0.75],[-0.2,-0.8],[-0.12,-0.72],[-0.05,-0.75],[0.0,-0.82],[0.1,-0.85],[0.2,-0.8],[0.28,-0.75],[0.35,-0.82],[0.45,-0.85],[0.5,-0.7],[-0.15,-0.88],[0.0,-0.98],[0.22,-0.98],[0.38,-0.98],
  [-0.16,0.35],[-0.13,0.32],[-0.11,0.38],[-0.09,0.34],[-0.14,0.26],[-0.12,0.22],[-0.07,0.26],[-0.15,0.4],[-0.06,0.37],[-0.18,0.3],[0.03,-0.05],[0.07,-0.14],[0.09,-0.04],[0.13,-0.07],[0.16,-0.14],[0.08,-0.18],[0.05,-0.16],[0.18,-0.06],
  [-0.62,0.9],[-0.66,0.95],[-0.75,0.75],[-0.68,0.7],[-0.45,0.98],[-0.34,1.0],[-0.2,1.05],[-0.08,1.12],[0.06,1.1],[0.18,0.98],[0.25,0.68],[0.36,0.5],[0.45,0.35],[0.48,0.22],[0.5,0.1],[0.6,0.0],[0.55,-0.25],[0.6,-0.45],[0.55,-0.65],[0.5,-0.9],[0.4,-1.05],[0.1,-1.0],[-0.05,-1.05],[-0.35,-1.05],[-0.45,-0.95],[-0.55,-0.65],[-0.65,-0.5],[-0.68,-0.2],[-0.6,-0.3],[-0.55,0.0],[-0.6,0.25],[-0.68,0.4],[-0.62,0.68],
  [-0.35,0.1],[-0.28,0.05],[-0.26,0.2],[-0.2,0.38],[-0.28,0.35],[-0.05,0.5],[0.08,0.3],[0.15,0.35],[0.22,0.2],[0.2,-0.02],[0.12,0.05],[-0.05,0.05],[-0.35,-0.2],[-0.25,-0.38],[-0.15,-0.55],[0.05,-0.7],[0.25,-0.88],[0.3,-0.65],[0.4,-0.45],[0.42,-0.28],[0.38,-0.05]
];

// arrows showing the sense of circulation in panel (a): [tail, tip]
const circulationA = [
  [[3.16, 1.97], [1.48, 2.68]],
  [[-2.79, -0.26], [-1.98, -1.65]],
  [[1.79, -3.70], [3.11, -3.07]]
];

const panelLabels = ["(a)", "(b)"];
const alphaLabels = ["\u03b1=0.0", "\u03b1=1.4"];
const xTitle = ["'Indian Ocean' ", "T", "1", "  at the eastern equatorial strip [K]"];
const yTitle = ["'Pacific' ", "T", "1", "  at the eastern equatorial strip [K]"];

// ---------------------------------------------------------------
const SANS = "'Liberation Sans Narrow','Arial Narrow','Liberation Sans',Arial,sans-serif";
const SERIF = "'Liberation Serif','Times New Roman',serif";
const svg = d3.select("#chart");
svg.append("rect").attr("width", 584).attr("height", 1191).attr("fill", "#fff");

const LEFT = 87.5, RIGHT = 578;

// squeeze a text element horizontally (in its own frame) to a given length
function fitTo(t, len) {
  const w = t.node().getComputedTextLength();
  if (w > 0) t.attr("transform", `scale(${len / w},1)`);
}

function title(parent, parts, len) {
  const t = parent.append("text")
    .attr("x", 0).attr("y", 0)
    .attr("text-anchor", "middle")
    .attr("font-family", SANS)
    .attr("font-size", 23.5)
    .attr("fill", "#1e1e1e")
    .style("white-space", "pre");
  t.append("tspan").text(parts[0]);
  t.append("tspan").attr("font-family", SERIF).attr("font-style", "italic").attr("font-size", 25).text(parts[1]);
  t.append("tspan").attr("font-family", SERIF).attr("font-size", 16).attr("dy", 5).text(parts[2]);
  t.append("tspan").attr("dy", -5).text(parts[3]);
  fitTo(t, len);
  return t;
}

function arrowHead(p0, p1) {
  const dx = p1[0] - p0[0], dy = p1[1] - p0[1];
  const len = Math.hypot(dx, dy);
  const ux = dx / len, uy = dy / len, nx = -uy, ny = ux;
  const L = 22, W = 11.5, notch = 0.6 * L;
  const tip = p1;
  const b1 = [tip[0] - L * ux + W * nx, tip[1] - L * uy + W * ny];
  const b2 = [tip[0] - L * ux - W * nx, tip[1] - L * uy - W * ny];
  const nt = [tip[0] - notch * ux, tip[1] - notch * uy];
  return { head: `M${tip}L${b1}L${nt}L${b2}Z`, neck: nt };
}

function drawPanel(p) {
  const x = d3.scaleLinear().domain(p.domain).range([LEFT, RIGHT]);
  const y = d3.scaleLinear().domain(p.domain).range([p.bottom, p.top]);
  const g = svg.append("g");

  // dotted grid
  const inner = p.ticks.filter(t => t !== 0 && t !== p.domain[0] && t !== p.domain[1]);
  g.selectAll("line.gx").data(inner).join("line").attr("class", "gx")
    .attr("x1", d => x(d)).attr("x2", d => x(d))
    .attr("y1", p.top).attr("y2", p.bottom)
    .attr("stroke", "#7c7c7c").attr("stroke-width", 1.3).attr("stroke-dasharray", "1.3,5.8");
  g.selectAll("line.gy").data(inner).join("line").attr("class", "gy")
    .attr("y1", d => y(d)).attr("y2", d => y(d))
    .attr("x1", LEFT).attr("x2", RIGHT)
    .attr("stroke", "#7c7c7c").attr("stroke-width", 1.3).attr("stroke-dasharray", "1.3,5.8");

  // zero lines
  g.append("line").attr("x1", x(0)).attr("x2", x(0)).attr("y1", p.top).attr("y2", p.bottom)
    .attr("stroke", "#6c6c6c").attr("stroke-width", 1.4);
  g.append("line").attr("y1", y(0)).attr("y2", y(0)).attr("x1", LEFT).attr("x2", RIGHT)
    .attr("stroke", "#6c6c6c").attr("stroke-width", 1.4);

  // monthly values
  g.selectAll("circle.dot").data(p.dots).join("circle").attr("class", "dot")
    .attr("cx", d => x(d[0])).attr("cy", d => y(d[1]))
    .attr("r", 1.15).attr("fill", "#121212");

  // running-mean circles
  g.selectAll("circle.rm").data(p.circles).join("circle").attr("class", "rm")
    .attr("cx", d => x(d[0])).attr("cy", d => y(d[1]))
    .attr("r", p.r).attr("fill", "none").attr("stroke", "#2f2f2f").attr("stroke-width", 1.5);

  // frame
  g.append("rect").attr("x", LEFT).attr("y", p.top)
    .attr("width", RIGHT - LEFT).attr("height", p.bottom - p.top)
    .attr("fill", "none").attr("stroke", "#2a2a2a").attr("stroke-width", 1.8);

  // axes
  const fmt = d3.format("~g");
  const ax = g.append("g").attr("transform", `translate(0,${p.bottom})`)
    .call(d3.axisBottom(x).tickValues(p.ticks).tickFormat(fmt).tickSize(5).tickPadding(p.xPad));
  const ay = g.append("g").attr("transform", `translate(${LEFT},0)`)
    .call(d3.axisLeft(y).tickValues(p.ticks).tickFormat(fmt).tickSize(5).tickPadding(5));
  [ax, ay].forEach(a => {
    a.select(".domain").remove();
    a.attr("font-family", SANS).attr("font-size", 18).attr("color", "#3a3a3a");
    a.selectAll(".tick line").attr("stroke-width", 1.3);
  });

  // circulation arrows
  (p.arrows || []).forEach(([t0, t1]) => {
    const P0 = [x(t0[0]), y(t0[1])], P1 = [x(t1[0]), y(t1[1])];
    const a = arrowHead(P0, P1);
    g.append("line").attr("x1", P0[0]).attr("y1", P0[1]).attr("x2", a.neck[0]).attr("y2", a.neck[1])
      .attr("stroke", "#9a9a9a").attr("stroke-width", 4.6).attr("stroke-linecap", "round");
    g.append("path").attr("d", a.head).attr("fill", "#9a9a9a");
  });

  // running-mean annotation at the first circle
  if (p.rmLabel) {
    const c = p.circles[0];
    const cx = x(c[0]), cy = y(c[1]);
    g.append("line").attr("x1", cx - 45).attr("y1", cy - 9).attr("x2", cx - p.r - 0.8).attr("y2", cy - 0.6)
      .attr("stroke", "#111").attr("stroke-width", 1.3);
    g.append("text").attr("x", cx - 55).attr("y", cy - 3).attr("text-anchor", "end")
      .attr("font-family", SERIF).attr("font-size", 23.5).attr("fill", "#111").text(p.rmLabel);
  }

  // panel letter and alpha
  g.append("text").attr("x", 97).attr("y", p.top + 40)
    .attr("font-family", SANS).attr("font-size", 29).attr("fill", "#222").text(p.letter);
  const ag = g.append("g").attr("transform", `translate(566,${p.top + 37.5})`);
  const at = ag.append("text").attr("text-anchor", "end")
    .attr("font-family", SERIF).attr("font-size", 29).attr("fill", "#111").text(p.alpha);
  fitTo(at, 81);

  // axis titles
  const xg = g.append("g").attr("transform", `translate(${(LEFT + RIGHT) / 2},${p.bottom + p.xTitleOff})`);
  title(xg, xTitle, 484);
  const yg = g.append("g").attr("transform", `translate(37.5,${(p.top + p.bottom) / 2}) rotate(-90)`);
  title(yg, yTitle, 424);
}

drawPanel({
  domain: [-6, 6], ticks: ticksA, top: 14.7, bottom: 522.3, xPad: 6, xTitleOff: 55,
  circles: runningMeanA, dots: monthlyA, r: 2.8, arrows: circulationA,
  rmLabel: "13mo RM", letter: panelLabels[0], alpha: alphaLabels[0]
});
drawPanel({
  domain: [-2, 2], ticks: ticksB, top: 617.7, bottom: 1126.7, xPad: 4, xTitleOff: 52,
  circles: runningMeanB, dots: monthlyB, r: 3.2,
  letter: panelLabels[1], alpha: alphaLabels[1]
});
</script>
</body>
</html>
